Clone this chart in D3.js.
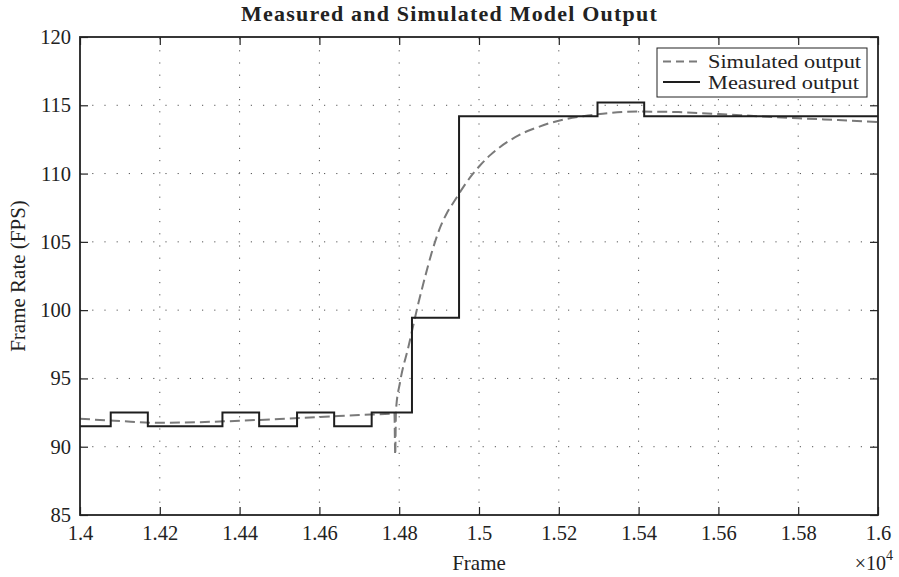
<!DOCTYPE html>
<html>
<head>
<meta charset="utf-8">
<script src="https://cdn.jsdelivr.net/npm/d3@7"></script>
<style>
  html, body { margin: 0; padding: 0; background: #fff; }
  svg { display: block; font-family: "Liberation Serif", "Times New Roman", serif; }
</style>
</head>
<body>
<svg id="chart" width="899" height="577"></svg>
<script>
// Frame numbers and frame rates
const simFrames = [14000, 14100, 14200, 14300, 14400, 14500, 14600, 14700, 14780, 14788, 14790, 14792,
  14802, 14823, 14848, 14865, 14881, 14900, 14919, 14940, 14961, 14982, 15003, 15028, 15053,
  15078, 15111, 15145, 15178, 15220, 15261, 15310, 15400, 15500, 15600, 15700, 15800, 15900, 16000];
const simValues = [92.05, 91.88, 91.75, 91.8, 91.9, 92.03, 92.17, 92.32, 92.43, 92.48, 89.4, 92.7,
  94.7, 97.3, 100.5, 102.45, 104.16, 105.86, 107.08, 108.06, 109.03, 109.88, 110.61, 111.35, 111.95,
  112.44, 112.97, 113.37, 113.7, 114.0, 114.2, 114.38, 114.54, 114.5, 114.36, 114.2, 114.05, 113.92, 113.78];

const measFrames = [14000, 14077, 14170, 14357, 14449, 14544, 14637, 14731, 14832, 14950, 15297, 15414, 16000];
const measValues = [91.5, 92.5, 91.5, 92.5, 91.5, 92.5, 91.5, 92.5, 99.45, 114.2, 115.2, 114.2, 114.2];

const xTicks = [14000, 14200, 14400, 14600, 14800, 15000, 15200, 15400, 15600, 15800, 16000];
const yTicks = [85, 90, 95, 100, 105, 110, 115, 120];

const legendLabels = ["Simulated output", "Measured output"];

const W = 899, H = 577;
const margin = { top: 37, right: 21, bottom: 62, left: 80 };
const iw = W - margin.left - margin.right;
const ih = H - margin.top - margin.bottom;

const svg = d3.select("#chart");
const g = svg.append("g").attr("transform", `translate(${margin.left},${margin.top})`);

const x = d3.scaleLinear().domain([14000, 16000]).range([0, iw]);
const y = d3.scaleLinear().domain([85, 120]).range([ih, 0]);

const textColor = "#222";
const fmtX = d => String(+(d / 1e4).toFixed(2));

// dotted grid
const grid = g.append("g").attr("stroke", "#555").attr("stroke-width", 1).attr("stroke-dasharray", "1.2,11");
grid.selectAll("line.v").data(xTicks.slice(1, -1)).join("line")
  .attr("x1", d => x(d)).attr("x2", d => x(d)).attr("y1", ih).attr("y2", 0);
grid.selectAll("line.h").data(yTicks.slice(1, -1)).join("line")
  .attr("y1", d => y(d)).attr("y2", d => y(d)).attr("x1", 0).attr("x2", iw);

// axes with inward ticks
const fontSize = 20.5;
function styleAxis(sel) {
  sel.select(".domain").remove();
  sel.selectAll(".tick line").attr("stroke", "#222").attr("stroke-width", 1.2);
  sel.selectAll(".tick text").attr("fill", textColor).style("font-size", fontSize + "px")
    .style("font-family", "Liberation Serif, serif");
}
g.append("g").attr("transform", `translate(0,${ih})`)
  .call(d3.axisBottom(x).tickValues(xTicks).tickFormat(fmtX).tickSize(-8).tickPadding(10))
  .call(styleAxis);
g.append("g")
  .call(d3.axisTop(x).tickValues(xTicks).tickFormat("").tickSize(-8))
  .call(styleAxis);
g.append("g")
  .call(d3.axisLeft(y).tickValues(yTicks).tickSize(-8).tickPadding(9))
  .call(styleAxis);
g.append("g").attr("transform", `translate(${iw},0)`)
  .call(d3.axisRight(y).tickValues(yTicks).tickFormat("").tickSize(-8))
  .call(styleAxis);

// series
svg.append("defs").append("clipPath").attr("id", "plotclip")
  .append("rect").attr("width", iw).attr("height", ih);

const simLine = d3.line().x((d, i) => x(simFrames[i])).y(d => y(d)).curve(d3.curveMonotoneX);
const measLine = d3.line().x((d, i) => x(measFrames[i])).y(d => y(d)).curve(d3.curveStepAfter);

const series = g.append("g").attr("clip-path", "url(#plotclip)");
series.append("path").datum(simValues)
  .attr("d", simLine).attr("fill", "none")
  .attr("stroke", "#7a7a7a").attr("stroke-width", 2).attr("stroke-dasharray", "10,5");
series.append("path").datum(measValues)
  .attr("d", measLine).attr("fill", "none")
  .attr("stroke", "#1e1e1e").attr("stroke-width", 2);

// frame
g.append("rect").attr("width", iw).attr("height", ih)
  .attr("fill", "none").attr("stroke", "#222").attr("stroke-width", 1.8);

// legend
const lg = svg.append("g").attr("transform", "translate(657,48)");
lg.append("rect").attr("width", 210).attr("height", 49)
  .attr("fill", "#fff").attr("stroke", "#222").attr("stroke-width", 1);
const styles = [
  { stroke: "#7a7a7a", dash: "8,5", width: 153 },
  { stroke: "#1e1e1e", dash: null, width: 151 }
];
legendLabels.forEach((lab, i) => {
  const cy = 13.5 + i * 20.5;
  lg.append("line").attr("x1", 6).attr("x2", 43).attr("y1", cy).attr("y2", cy)
    .attr("stroke", styles[i].stroke).attr("stroke-width", 2)
    .attr("stroke-dasharray", styles[i].dash);
  lg.append("text").attr("x", 51).attr("y", cy + 6.5)
    .attr("fill", textColor).style("font-size", "18.5px")
    .attr("textLength", styles[i].width).attr("lengthAdjust", "spacingAndGlyphs")
    .text(lab);
});

// title and axis labels
svg.append("text").attr("x", W / 2).attr("y", 21).attr("text-anchor", "middle")
  .attr("fill", textColor).style("font-size", "22px").style("font-weight", "bold")
  .style("letter-spacing", "1.2px")
  .text("Measured and Simulated Model Output");

svg.append("text").attr("x", margin.left + iw / 2).attr("y", 570).attr("text-anchor", "middle")
  .attr("fill", textColor).style("font-size", "21px").text("Frame");

svg.append("text").attr("transform", `translate(25,${margin.top + ih / 2}) rotate(-90)`)
  .attr("text-anchor", "middle").attr("fill", textColor).style("font-size", "21px")
  .text("Frame Rate (FPS)");

// exponent of the x axis
const ex = svg.append("text").attr("x", 893).attr("y", 570).attr("text-anchor", "end")
  .attr("fill", textColor).style("font-size", "20px");
ex.append("tspan").text("×10");
ex.append("tspan").attr("dy", -10).style("font-size", "14px").text("4");
</script>
</body>
</html>
